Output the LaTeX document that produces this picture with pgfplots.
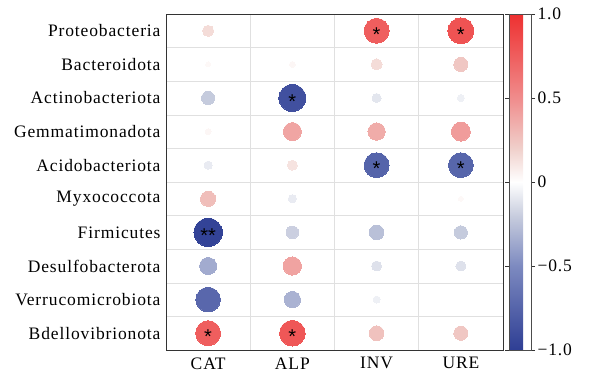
\documentclass[border=0pt]{standalone}
\usepackage{pgfplots}
\pgfplotsset{compat=1.18}
\usepackage{pgfplotstable}
\usepackage{fontspec}
\setmainfont{Liberation Serif}[LetterSpace=5]
\newfontfamily\starfont{Liberation Sans}

\pgfplotstableread{
x y r
0 0 0.15
2 0 0.75
3 0 0.81
0 1 0.03
1 1 0.04
2 1 0.15
3 1 0.24
0 2 -0.21
1 2 -0.88
2 2 -0.10
3 2 -0.06
0 3 0.04
1 3 0.39
2 3 0.36
3 3 0.43
0 4 -0.08
1 4 0.12
2 4 -0.75
3 4 -0.74
0 5 0.28
1 5 -0.08
3 5 0.03
0 6 -0.97
1 6 -0.19
2 6 -0.26
3 6 -0.21
0 7 -0.35
1 7 0.40
2 7 -0.12
3 7 -0.12
0 8 -0.73
1 8 -0.32
2 8 -0.06
0 9 0.75
1 9 0.79
2 9 0.26
3 9 0.24
}\corrdata

\pgfplotstableread{
x y lab
2 0 *
3 0 *
1 2 *
2 4 *
3 4 *
0 6 **
0 9 *
1 9 *
}\stardata

\begin{document}
\begin{tikzpicture}
\useasboundingbox (-166pt,-25pt) rectangle (428pt,350pt);
\begin{axis}[
  at={(0pt,0pt)}, anchor=south west,
  scale only axis, width=337pt, height=336pt,
  xmin=-0.5, xmax=3.5, ymin=-0.5, ymax=9.5, y dir=reverse,
  xtick={0,1,2,3}, xticklabels={CAT,ALP,INV,URE},
  ytick={0,...,9},
  yticklabels={Proteobacteria,Bacteroidota,Actinobacteriota,Gemmatimonadota,Acidobacteriota,Myxococcota,Firmicutes,Desulfobacterota,Verrucomicrobiota,Bdellovibrionota},
  minor xtick={0.5,1.5,2.5},
  minor ytick={0.5,1.5,...,8.5},
  grid=minor, minor grid style={draw=black!12, line width=0.6pt},
  major tick length=0pt, minor tick length=0pt,
  tick label style={font=\fontsize{17.5}{20}\selectfont},
  yticklabel style={xshift=-2pt},
  xticklabel style={yshift=-4pt},
  axis line style={draw=black!80, line width=0.9pt},
  colormap={cm}{rgb255(0cm)=(46,62,148) rgb255(5cm)=(125,138,192) rgb255(8cm)=(200,205,222) rgb255(10cm)=(255,255,255) rgb255(12cm)=(240,208,203) rgb255(15cm)=(240,140,140) rgb255(20cm)=(238,48,48)},
  point meta min=-1, point meta max=1,
  colorbar,
  colorbar shift/.style={xshift=6pt},
  colorbar style={
    at={(parent axis.north east)}, anchor=north west,
    scale only axis, width=22pt, height=336pt,
    ytick={-1,-0.5,0,0.5,1},
    yticklabels={{−1.0},{−0.5},{0},{0.5},{1.0}},
    major tick length=4pt, tick align=outside,
    yticklabel pos=right,
    yticklabel style={xshift=-1pt},
    tick style={draw=black!80, line width=0.6pt},
    axis line style={draw=black!70, line width=0.6pt},
    tick label style={font=\fontsize{17.5}{20}\selectfont},
  },
]
\addplot[
  scatter, only marks, mark=*,
  point meta=explicit,
  visualization depends on={14.4*sqrt(abs(\thisrow{r})) \as \rad},
  scatter/@pre marker code/.code={%
    \pgfplotscolormapdefinemappedcolor{\pgfplotspointmetatransformed}%
    \scope[mark size=\rad pt, fill=mapped color, draw=mapped color, line width=0pt]%
  },
  scatter/@post marker code/.code={\endscope},
] table[x=x, y=y, meta=r] {\corrdata};
\addplot[
  only marks, mark=none,
  nodes near coords,
  point meta=explicit symbolic,
  nodes near coords style={anchor=center, yshift=-3.5pt, font=\starfont\fontsize{20}{22}\selectfont, inner sep=0pt},
] table[x=x, y=y, meta=lab] {\stardata};
\end{axis}
\end{tikzpicture}
\end{document}
